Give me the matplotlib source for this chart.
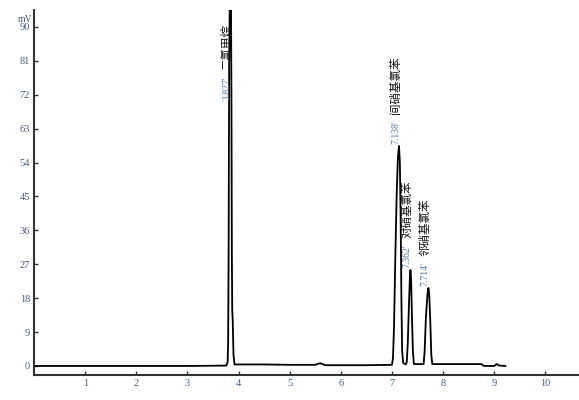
import matplotlib
matplotlib.use("Agg")
import matplotlib.pyplot as plt

# chromatogram trace (time in min, signal in mV)
t = [0.0, 1.0, 2.0, 3.0, 3.76, 3.785, 3.795, 3.805, 3.815, 3.83, 3.85, 3.86,
     3.868, 3.875, 3.885, 3.90, 3.92, 4.5, 5.0, 5.5, 5.56, 5.6, 5.64, 5.7,
     6.5, 7.0, 7.02, 7.04, 7.065, 7.09, 7.115, 7.138, 7.155, 7.17, 7.185,
     7.20, 7.22, 7.27, 7.29, 7.31, 7.33, 7.35, 7.362, 7.375, 7.39, 7.41, 7.43,
     7.62, 7.64, 7.665, 7.695, 7.714, 7.73, 7.75, 7.77, 7.79, 8.75, 8.80,
     9.0, 9.05, 9.1, 9.22]
mv = [0.0, 0.0, 0.0, 0.0, 0.1, 1.0, 6, 30, 80, 100, 100, 70,
      30, 15, 12, 3, 0.4, 0.4, 0.3, 0.3, 0.6, 0.7, 0.5, 0.2,
      0.2, 0.3, 2, 10, 28, 44, 55, 58.4, 54, 40, 18,
      4, 0.8, 0.4, 1, 6, 15, 23, 25.5, 23, 14, 4, 0.5,
      0.5, 4, 13, 19, 20.7, 19, 12, 3, 0.5, 0.5, 0.0,
      0.0, 0.5, 0.1, 0.0]

peak_rt = [3.827, 7.138, 7.362, 7.714]
peak_top = [70.0, 58.4, 25.5, 20.7]
peak_names = ["二氯甲烷", "间硝基氯苯", "对硝基氯苯", "邻硝基氯苯"]
rt_labels = ["3.827'", "7.138'", "7.362'", "7.714'"]

xticks = [1, 2, 3, 4, 5, 6, 7, 8, 9, 10]
yticks = [0, 9, 18, 27, 36, 45, 54, 63, 72, 81, 90]

fig = plt.figure(figsize=(5.79, 4.0), dpi=100)
ax = fig.add_axes([0.059, 0.0625, 0.941, 0.9125])

ax.plot(t, mv, color="black", lw=1.3)

tick_color = "#4a5a80"
serif = ["Liberation Serif", "DejaVu Serif"]
cjk = ["Noto Sans CJK SC", "DejaVu Sans"]
for rt, top, name, lab in zip(peak_rt, peak_top, peak_names, rt_labels):
    ax.text(rt - 0.06, top + 0.6, lab, rotation=90, ha="center", va="bottom",
            fontsize=7, color="#5577aa", family=serif)
    ax.text(rt - 0.06, top + 8.5, name, rotation=90, ha="center", va="bottom",
            fontsize=8.3, color="#111111", family=cjk)

ax.set_xlim(0, 10.66)
ax.set_ylim(-2.4, 94.5)
ax.set_xticks(xticks)
ax.set_yticks(yticks)
ax.set_xticklabels([str(v) for v in xticks], family=serif, fontsize=7.5)
ax.set_yticklabels([str(v) for v in yticks], family=serif, fontsize=7.5)
ax.tick_params(direction="in", length=3, width=1, colors="#333333",
               labelcolor=tick_color, pad=3)

for s in ["top", "right"]:
    ax.spines[s].set_visible(False)
for s in ["left", "bottom"]:
    ax.spines[s].set_linewidth(1.5)
    ax.spines[s].set_color("#333333")

fig.text(0.03, 0.945, "mV", fontsize=7, color="#445577", family=serif)

fig.savefig("out.png", dpi=100)
